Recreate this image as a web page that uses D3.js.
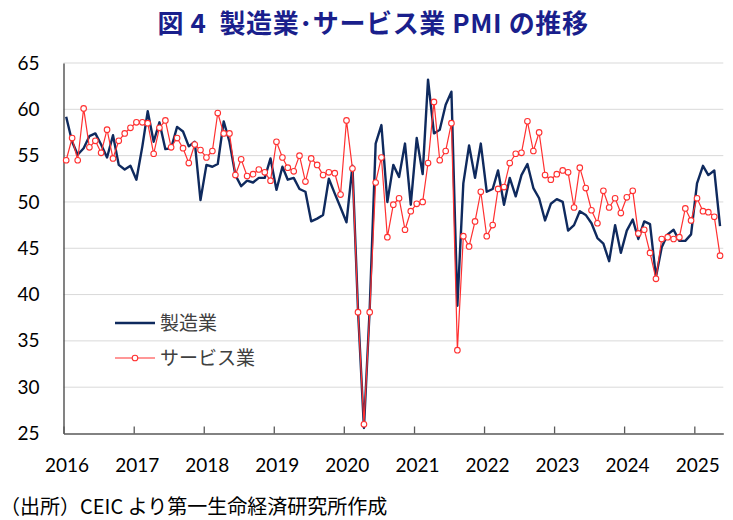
<!DOCTYPE html>
<html>
<head>
<meta charset="utf-8">
<script src="https://cdn.jsdelivr.net/npm/d3@7"></script>
<style>
  body { margin: 0; background: #fff; }
  svg { display: block; }
</style>
</head>
<body>
<div class="chart"></div>
<script>
var w = 733;
var h = 520;

// monthly data, Jan 2016 - May 2025
var startYear = 2016;
var manufacturing = [
  59.2, 56.5, 55.1, 55.8, 57.1, 57.4, 56.2, 54.8, 57.2, 54.0, 53.5, 53.9,
  52.4, 56.0, 59.8, 56.5, 58.6, 55.7, 55.8, 58.1, 57.6, 56.0, 56.5, 50.2,
  54.0, 53.8, 54.1, 58.7, 56.5, 52.9, 51.7, 52.3, 52.1, 52.6, 52.6, 54.7,
  51.3, 53.8, 52.4, 52.6, 51.4, 51.1, 47.9, 48.2, 48.6, 52.5, 50.9, 49.4,
  47.8, 53.9, 38.3, 25.6, 38.5, 56.3, 58.3, 50.0, 54.0, 52.7, 56.3, 49.7,
  56.9, 53.0, 63.2, 57.4, 57.8, 60.5, 61.9, 38.8, 52.0, 56.1, 52.6, 56.3,
  51.1, 51.4, 53.4, 49.7, 52.6, 50.6, 52.9, 54.1, 51.5, 50.4, 48.0, 49.8,
  50.3, 50.0, 46.9, 47.5, 49.0, 48.6, 47.7, 46.1, 45.5, 43.6, 47.5, 44.5,
  46.9, 48.1, 46.0, 47.9, 47.6, 41.9, 45.1, 46.5, 47.0, 45.8, 45.8, 46.5,
  52.0, 53.9, 52.9, 53.4, 47.4
];
var services = [
  54.5, 56.9, 54.5, 60.1, 55.9, 56.6, 55.3, 57.8, 54.7, 56.6, 57.4, 58.0,
  58.6, 58.6, 58.5, 55.2, 58.0, 58.8, 55.9, 56.9, 55.8, 54.2, 56.2, 55.6,
  54.8, 55.5, 59.6, 57.4, 57.4, 52.9, 54.6, 52.8, 53.0, 53.5, 53.2, 52.3,
  56.5, 54.8, 53.7, 53.3, 55.0, 52.2, 54.7, 54.0, 52.9, 53.2, 53.1, 50.8,
  58.8, 53.6, 38.1, 26.0, 38.1, 52.1, 54.8, 46.2, 49.7, 50.4, 47.0, 49.0,
  49.8, 50.0, 54.2, 60.8, 54.5, 55.5, 58.5, 34.0, 46.3, 45.2, 47.9, 51.1,
  46.3, 47.5, 51.4, 51.6, 54.2, 55.2, 55.3, 58.7, 55.5, 57.5, 52.9, 52.4,
  53.0, 53.4, 53.2, 49.4, 53.7, 51.5, 49.1, 47.7, 51.2, 49.4, 50.4, 48.8,
  50.5, 51.2, 46.6, 47.0, 44.5, 41.7, 46.0, 46.2, 46.0, 46.2, 49.3, 48.0,
  50.4, 49.0, 48.9, 48.4, 44.2
];
var yearLabels = ["2016", "2017", "2018", "2019", "2020", "2021", "2022", "2023", "2024", "2025"];
var yTicks = [25, 30, 35, 40, 45, 50, 55, 60, 65];
var seriesNames = ["製造業", "サービス業"];

var navy = "#0f2a5e";
var red = "#ff3030";

var margin = {left: 63.5, right: 9.7, top: 63, bottom: 86.5};

var xScale = d3.scaleTime()
    .domain([new Date(startYear, 0, 1), new Date(2025, 5, 1)])
    .range([margin.left, w - margin.right]);

var yScale = d3.scaleLinear()
    .domain([25, 65])
    .range([h - margin.bottom, margin.top]);

function dateOf(i) {
  return new Date(startYear, i, 15);
}

var svg = d3.select(".chart")
    .append("svg")
    .attr("width", w)
    .attr("height", h);

// title
svg.append("text")
    .attr("x", 373)
    .attr("y", 33)
    .attr("text-anchor", "middle")
    .attr("font-family", "'Noto Sans CJK JP', 'Noto Sans', sans-serif")
    .attr("font-weight", "bold")
    .attr("font-size", 26)
    .attr("letter-spacing", 0.6)
    .attr("fill", "#1a1f8c")
    .style("white-space", "pre")
    .text("図 4  製造業･サービス業 PMI の推移");

// grid lines
svg.append("g")
    .selectAll("line")
    .data(yTicks.filter(function(d) { return d > 25; }))
    .enter()
    .append("line")
    .attr("x1", margin.left)
    .attr("x2", w - margin.right)
    .attr("y1", function(d) { return yScale(d); })
    .attr("y2", function(d) { return yScale(d); })
    .attr("stroke", "#d9d9d9")
    .attr("stroke-width", 1);

// y axis
var yAxis = svg.append("g")
    .attr("transform", "translate(" + margin.left + ",0)")
    .call(d3.axisLeft(yScale).tickValues(yTicks).tickSize(0).tickPadding(24));
yAxis.select(".domain").attr("stroke", "#404040").attr("stroke-width", 1.3);
yAxis.selectAll("text")
    .attr("font-family", "Lato, 'Open Sans', sans-serif")
    .attr("font-size", 19)
    .attr("fill", "#000");

// x axis
var yearDates = yearLabels.map(function(d) { return new Date(+d, 0, 1); });
var xAxis = svg.append("g")
    .attr("transform", "translate(0," + yScale(25) + ")")
    .call(d3.axisBottom(xScale)
        .tickValues(yearDates)
        .tickFormat(function(d, i) { return yearLabels[i]; })
        .tickSizeInner(-7)
        .tickSizeOuter(0)
        .tickPadding(25));
xAxis.select(".domain").attr("stroke", "#595959").attr("stroke-width", 1.3);
xAxis.selectAll(".tick line").attr("stroke", "#595959").attr("stroke-width", 1.3);
xAxis.selectAll("text")
    .attr("font-family", "Lato, 'Open Sans', sans-serif")
    .attr("font-size", 19)
    .attr("dx", 3)
    .attr("fill", "#000");

// lines
var line = d3.line()
    .x(function(d, i) { return xScale(dateOf(i)); })
    .y(function(d) { return yScale(d); });

svg.append("path")
    .datum(manufacturing)
    .attr("fill", "none")
    .attr("stroke", navy)
    .attr("stroke-width", 2.4)
    .attr("stroke-linejoin", "round")
    .attr("d", line);

svg.append("path")
    .datum(services)
    .attr("fill", "none")
    .attr("stroke", red)
    .attr("stroke-width", 1.2)
    .attr("stroke-linejoin", "round")
    .attr("d", line);

svg.append("g")
    .selectAll("circle")
    .data(services)
    .enter()
    .append("circle")
    .attr("cx", function(d, i) { return xScale(dateOf(i)); })
    .attr("cy", function(d) { return yScale(d); })
    .attr("r", 2.8)
    .attr("fill", "#fff")
    .attr("stroke", red)
    .attr("stroke-width", 1.1);

// legend
var legend = svg.append("g");
legend.append("line")
    .attr("x1", 115).attr("x2", 155)
    .attr("y1", 323).attr("y2", 323)
    .attr("stroke", navy).attr("stroke-width", 2.4);
legend.append("line")
    .attr("x1", 115).attr("x2", 155)
    .attr("y1", 358).attr("y2", 358)
    .attr("stroke", red).attr("stroke-width", 1.2);
legend.append("circle")
    .attr("cx", 135).attr("cy", 358).attr("r", 2.8)
    .attr("fill", "#fff").attr("stroke", red).attr("stroke-width", 1.1);
legend.selectAll("text")
    .data(seriesNames)
    .enter()
    .append("text")
    .attr("x", 160)
    .attr("y", function(d, i) { return 323 + i * 35; })
    .attr("dy", "0.35em")
    .attr("font-family", "'Noto Sans CJK JP', sans-serif")
    .attr("font-size", 19)
    .attr("fill", "#404040")
    .text(function(d) { return d; });

// source
svg.append("text")
    .attr("x", 0)
    .attr("y", 514)
    .attr("font-family", "'Noto Sans CJK JP', sans-serif")
    .attr("font-size", 20)
    .attr("fill", "#000")
    .text("（出所）CEIC より第一生命経済研究所作成");
</script>
</body>
</html>
